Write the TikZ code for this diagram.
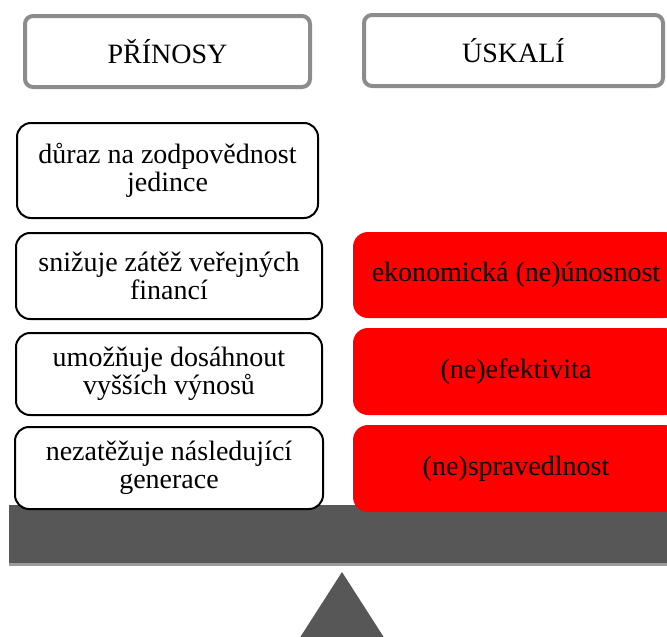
\documentclass[tikz,border=0pt]{standalone}
\usepackage{fontspec}
\setmainfont{Liberation Serif}
\definecolor{framegray}{HTML}{8C8C8C}
\definecolor{beamgray}{HTML}{575757}
\definecolor{shadegray}{HTML}{9A9A9A}
\definecolor{riskred}{HTML}{FF0000}
\begin{document}
\begin{tikzpicture}[x=1pt,y=-1pt,
  every node/.style={font=\fontsize{28}{28}\selectfont, align=center, inner sep=0pt},
  headbox/.style={draw=framegray, line width=4pt, fill=white, rounded corners=8pt},
  probox/.style={draw=black, line width=2pt, fill=white, rounded corners=14pt},
  riskbox/.style={fill=riskred, rounded corners=15pt}]
  \useasboundingbox (0,0) rectangle (667,637);
  \clip (0,0) rectangle (667,637);

  % balance beam with a light lower edge
  \fill[shadegray] (9,507) rectangle (690,566);
  \fill[beamgray] (9,505) rectangle (690,563);

  % fulcrum
  \fill[beamgray] (342,572) -- (392,650) -- (292,650) -- cycle;

  % column headings
  \node[headbox, minimum width=285pt, minimum height=71pt] (hP) at (167.5,51.5) {PŘÍNOSY};
  \node[headbox, minimum width=299pt, minimum height=71pt] (hU) at (513.5,50.5) {ÚSKALÍ};

  % benefits
  \node[probox, minimum width=301pt, minimum height=95pt] (b1) at (167.5,170.5) {důraz na zodpovědnost\\jedince};
  \node[probox, minimum width=306pt, minimum height=86pt] (b2) at (169,276) {snižuje zátěž veřejných\\financí};
  \node[probox, minimum width=306pt, minimum height=82pt] (b3) at (169,374) {umožňuje dosáhnout\\vyšších výnosů};
  \node[probox, minimum width=308pt, minimum height=82pt] (b4) at (169,468) {nezatěžuje následující\\generace};

  % risks
  \node[riskbox, minimum width=326pt, minimum height=86pt] (r1) at (516,275) {ekonomická (ne)únosnost};
  \node[riskbox, minimum width=326pt, minimum height=87pt] (r2) at (516,371.5) {(ne)efektivita};
  \node[riskbox, minimum width=326pt, minimum height=87pt] (r3) at (516,468.5) {(ne)spravedlnost};
\end{tikzpicture}
\end{document}
